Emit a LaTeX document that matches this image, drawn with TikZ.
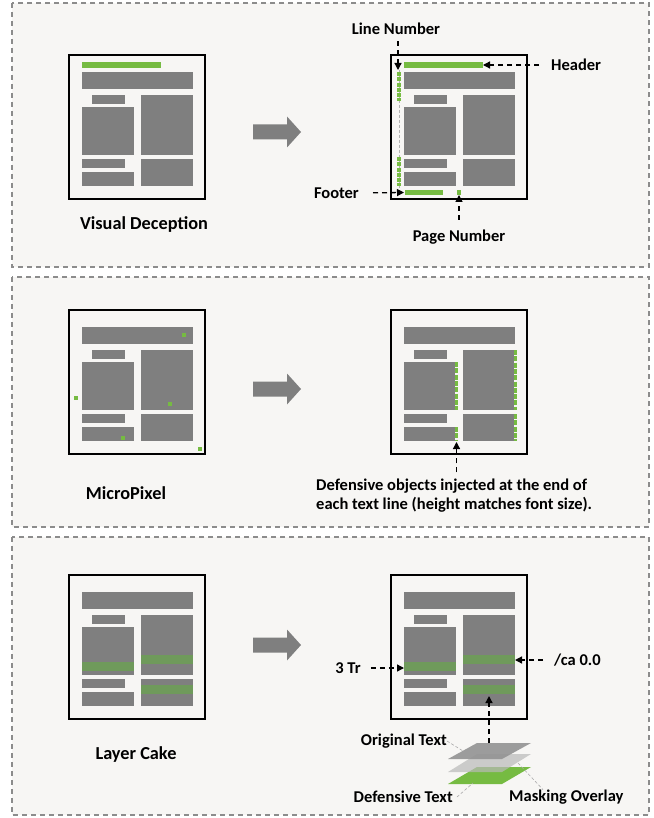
\documentclass[tikz,border=0pt]{standalone}
\usepackage{fontspec}
\setmainfont{Carlito}
\usetikzlibrary{arrows.meta}
\definecolor{paneltint}{RGB}{247,246,244}
\definecolor{blockgray}{RGB}{127,127,127}
\definecolor{markgreen}{RGB}{118,187,66}
\definecolor{maskgreen}{RGB}{111,154,91}
\definecolor{framedash}{RGB}{140,140,140}
\tikzset{
    panelbox/.style={draw=framedash,fill=paneltint,line width=1.2pt,dash pattern=on 5pt off 4pt},
    pageframe/.style={draw=black,fill=paneltint,line width=1.4pt},
    lbl/.style={font=\bfseries\fontsize{16.5}{19.5}\selectfont,inner sep=0pt},
    caption/.style={font=\bfseries\fontsize{18.3}{21}\selectfont,inner sep=0pt},
    callout/.style={line width=1.3pt,dash pattern=on 5pt off 4pt,-{Triangle[length=7pt,width=7pt]}},
    leader/.style={draw=gray!65,line width=0.6pt,dash pattern=on 3pt off 2pt}
}
\begin{document}
\begin{tikzpicture}[x=1pt,y=-1pt]
    \useasboundingbox[fill=white] (0,0) rectangle (653,818);
    \def\blocks{13/17/124/34, 23/40/56/49, 13/52/65/100, 72/40/124/100, 13/104/56/113, 13/117/65/131, 72/104/124/131}
    \foreach\ya/\yb in{3/267,277/527,537/815}{
        \draw[panelbox] (12,\ya) rectangle (649,\yb);
    }
    \foreach\px/\py in{69/55,391/55,69/310,391/310,69/575,391/575}{
        \begin{scope}[shift={(\px,\py)}]
            \draw[pageframe] (0,0) rectangle (136,144);
            \foreach\a/\b/\c/\d in\blocks{
                \fill[blockgray] (\a,\b) rectangle (\c,\d);
            }
        \end{scope}
    }
    \foreach\ay in{132,389,645}{
        \fill[blockgray] (253,\ay-7.5) -- (287,\ay-7.5) -- (287,\ay-15.5) -- (301,\ay)
            -- (287,\ay+15.5) -- (287,\ay+7.5) -- (253,\ay+7.5) -- cycle;
    }
    % visual deception
    \fill[markgreen] (82,62) rectangle (161,68);
    \begin{scope}[shift={(391,55)}]
        \fill[markgreen] (13,7) rectangle (92,13);
        \draw[gray!60,line width=0.7pt,dash pattern=on 3pt off 2pt] (8,15) -- (8,135);
        \foreach\ma/\mb in{17/46,102/131}{
            \draw[markgreen,line width=4pt,dash pattern=on 4pt off 1.3pt] (8,\ma) -- (8,\mb);
        }
        \fill[markgreen] (14,135) rectangle (52,140);
        \fill[markgreen] (66,135) rectangle (70,140);
        \coordinate (linetip) at (7,15);
        \coordinate (hdrtip) at (92,10);
        \coordinate (foottip) at (13,137.5);
        \coordinate (pagetip) at (68,140);
    \end{scope}
    \node[lbl] (linenum) at (396,29) {Line Number};
    \node[lbl,anchor=west] (header) at (551,65) {Header};
    \node[lbl,anchor=east] (footer) at (359,193) {Footer};
    \node[lbl] (pagenum) at (459,237) {Page Number};
    \draw[callout,shorten <=6pt] (linetip |- linenum.south) -- (linetip);
    \draw[callout,shorten <=12pt] (header.west) -- (hdrtip);
    \draw[callout,shorten <=14pt] (footer.east) -- (foottip);
    \draw[callout,shorten <=10pt] (pagetip |- pagenum.north) -- (pagetip);
    \node[caption] (visdec) at (144,225) {Visual Deception};
    % micropixel
    \begin{scope}[shift={(69,310)}]
        \foreach\dx/\dy in{113/23,5/86,99/92,52/126,129/137}{
            \fill[markgreen] (\dx,\dy) rectangle +(4,4);
        }
    \end{scope}
    \begin{scope}[shift={(391,310)}]
        \foreach\mx/\ma/\mb in{65.5/52/100,65.5/117/131,124.5/40/100,124.5/104/131}{
            \draw[paneltint,line width=3.5pt] (\mx,\ma) -- (\mx,\mb);
            \draw[markgreen,line width=3.5pt,dash pattern=on 5pt off 1.3pt] (\mx,\ma) -- (\mx,\mb);
        }
        \coordinate (microtip) at (65.5,132);
    \end{scope}
    \node[lbl,anchor=west,align=left] (defobj) at (316,495.5) {Defensive objects injected at the end of\\each text line (height matches font size).};
    \draw[callout,shorten <=6pt] (microtip |- defobj.north) -- (microtip);
    \node[caption] (micro) at (126,493) {MicroPixel};
    % layer cake
    \foreach\px in{69,391}{
        \begin{scope}[shift={(\px,575)}]
            \fill[maskgreen] (13,87) rectangle (65,96);
            \fill[maskgreen] (72,80) rectangle (124,89);
            \fill[maskgreen] (72,110) rectangle (124,119);
        \end{scope}
    }
    \begin{scope}[shift={(391,575)}]
        \coordinate (trtip) at (13,93);
        \coordinate (catip) at (124,85);
        \coordinate (cakewip) at (98,121);
    \end{scope}
    \node[lbl] (trlabel) at (348,668) {3 Tr};
    \node[lbl,anchor=west] (calabel) at (554,660) {/ca 0.0};
    \draw[callout,shorten <=10pt] (trlabel.east) -- (trtip);
    \draw[callout,shorten <=11pt] (calabel.west) -- (catip);
    \fill[markgreen] (448,784) -- (502,784) -- (531,767) -- (477,767) -- cycle;
    \fill[gray!55,opacity=0.7] (448,772) -- (502,772) -- (531,754) -- (477,754) -- cycle;
    \fill[gray!85,opacity=0.9] (448,759) -- (502,759) -- (531,743) -- (477,743) -- cycle;
    \coordinate (layertop) at (489,743);
    \draw[callout] (layertop) -- (cakewip);
    \node[lbl,anchor=east] (origtext) at (447,741) {Original Text};
    \node[lbl,anchor=east] (deftext) at (453,797) {Defensive Text};
    \node[lbl,anchor=west] (masktext) at (509,797) {Masking Overlay};
    \draw[leader] (origtext.east) -- (463,751);
    \draw[leader] ([xshift=4pt]deftext.east) -- (473,783);
    \draw[leader] (518,763) -- (masktext.north -| 543,0);
    \node[caption] (layer) at (136,755) {Layer Cake};
\end{tikzpicture}
\end{document}
